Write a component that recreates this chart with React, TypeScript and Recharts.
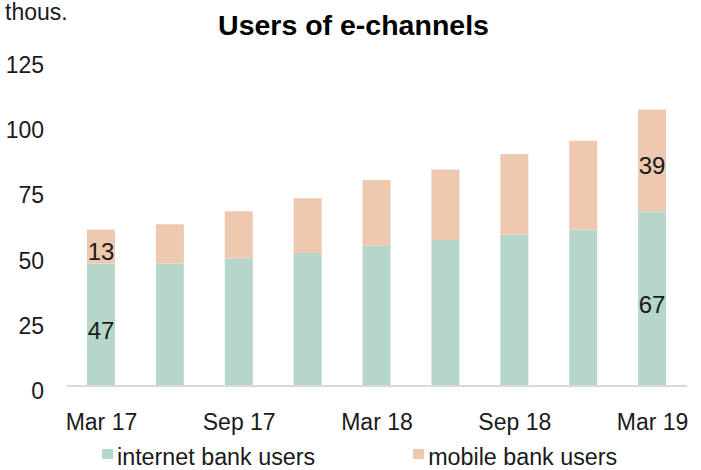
import { Bar, BarChart, LabelList, Legend, XAxis, YAxis } from "recharts";

const periods = [
  "Mar 17",
  "Jun 17",
  "Sep 17",
  "Dec 17",
  "Mar 18",
  "Jun 18",
  "Sep 18",
  "Dec 18",
  "Mar 19",
];

const internetUsers = [47, 47, 49, 51, 54, 56, 58, 60, 67];
const mobileUsers = [13, 15, 18, 21, 25, 27, 31, 34, 39];

const yTicks = [0, 25, 50, 75, 100, 125];

const INTERNET_COLOR = "#b6d6ca";
const MOBILE_COLOR = "#eec8af";
const TEXT_COLOR = "#1a1a1a";
const FONT = '"Liberation Sans", Arial, sans-serif';

// only the first and last bars carry value labels
const lastIndex = periods.length - 1;

const data = periods.map((period, i) => ({
  period,
  internet: internetUsers[i],
  mobile: mobileUsers[i],
  internetLabel: i === 0 || i === lastIndex ? internetUsers[i] : null,
  mobileLabel: i === 0 || i === lastIndex ? mobileUsers[i] : null,
}));

const YTick = ({ x, y, payload }: any) => (
  <text
    x={x}
    y={y}
    dy={13}
    textAnchor="end"
    fontSize={23}
    fill={TEXT_COLOR}
  >
    {payload.value}
  </text>
);

const segmentLabel = (props: any) => {
  const { x, y, width, height, value } = props;
  if (value === null || value === undefined) return null;
  return (
    <text
      x={Number(x) + Number(width) / 2}
      y={Number(y) + Number(height) / 2}
      dy={14}
      textAnchor="middle"
      fontSize={24}
      fill={TEXT_COLOR}
    >
      {value}
    </text>
  );
};

const legendItems = [
  { label: "internet bank users", color: INTERNET_COLOR },
  { label: "mobile bank users", color: MOBILE_COLOR },
];

const ChannelLegend = () => (
  <div
    style={{
      display: "flex",
      height: 26,
      lineHeight: "26px",
      paddingLeft: 102,
      fontSize: 23.3,
      color: TEXT_COLOR,
      whiteSpace: "nowrap",
    }}
  >
    {legendItems.map((item) => (
      <div
        key={item.label}
        style={{ display: "flex", flexShrink: 0, marginRight: 98 }}
      >
        <span
          style={{
            width: 11,
            height: 10,
            flexShrink: 0,
            marginTop: 5,
            marginRight: 4,
            background: item.color,
          }}
        />
        <span>{item.label}</span>
      </div>
    ))}
  </div>
);

export default function App() {
  return (
    <div
      style={{
        position: "absolute",
        left: 0,
        top: 0,
        width: 701,
        height: 470,
        fontFamily: FONT,
        background: "#ffffff",
      }}
    >
      <div
        style={{
          position: "absolute",
          left: 5,
          top: 1,
          fontSize: 23,
          lineHeight: 1,
          color: TEXT_COLOR,
        }}
      >
        thous.
      </div>
      <div
        style={{
          position: "absolute",
          left: 0,
          width: 707,
          top: 11,
          textAlign: "center",
          fontSize: 28.5,
          fontWeight: 700,
          lineHeight: 1,
          color: "#000000",
        }}
      >
        Users of e-channels
      </div>

      <BarChart
        width={701}
        height={470}
        data={data}
        margin={{ top: 60, right: 14, left: 0, bottom: 0 }}
      >
        <XAxis
          dataKey="period"
          interval={1}
          tickLine={false}
          tickSize={0}
          tickMargin={28}
          height={58}
          axisLine={{ stroke: "#d9d9d9", strokeWidth: 2 }}
          tick={{ fontSize: 23, fill: TEXT_COLOR }}
        />
        <YAxis
          type="number"
          domain={[0, 125]}
          ticks={yTicks}
          width={67}
          axisLine={false}
          tickLine={false}
          tickSize={0}
          tickMargin={23}
          tick={<YTick />}
        />
        <Legend verticalAlign="bottom" content={<ChannelLegend />} />
        <Bar
          dataKey="internet"
          name="internet bank users"
          stackId="users"
          fill={INTERNET_COLOR}
          barSize={28}
          isAnimationActive={false}
        >
          <LabelList dataKey="internetLabel" content={segmentLabel} />
        </Bar>
        <Bar
          dataKey="mobile"
          name="mobile bank users"
          stackId="users"
          fill={MOBILE_COLOR}
          barSize={28}
          isAnimationActive={false}
        >
          <LabelList dataKey="mobileLabel" content={segmentLabel} />
        </Bar>
      </BarChart>
    </div>
  );
}
